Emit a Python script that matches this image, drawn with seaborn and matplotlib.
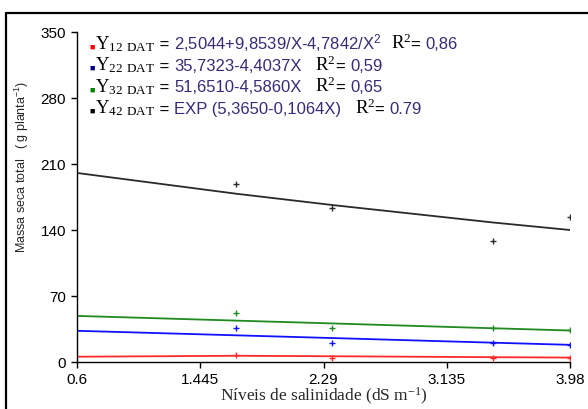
import matplotlib
matplotlib.use("Agg")
import matplotlib.pyplot as plt
import seaborn as sns
import pandas as pd
from matplotlib.offsetbox import TextArea, HPacker, VPacker, AnchoredOffsetbox
from matplotlib.lines import Line2D

# ---- data ----
series = ["12 DAT", "22 DAT", "32 DAT", "42 DAT"]
colors = ["#ff2a2a", "#1010ff", "#1f8a1f", "#2a2a2a"]
legend_colors = ["#ff0000", "#000080", "#008000", "#000000"]

pts_x = [1.69, 2.35, 3.45, 3.98]
pts_12 = [7.5, 4.5, 4.5, 4.5]
pts_22 = [36.0, 20.0, 20.0, 18.5]
pts_32 = [52.5, 36.0, 36.0, 34.0]
pts_42 = [188.5, 163.5, 128.5, 154.0]

fit_x = [0.6, 1.69, 2.35, 3.45, 3.98]
fit_12 = [5.6, 6.6, 6.1, 5.1, 4.7]
fit_22 = [33.1, 28.3, 25.4, 20.5, 18.2]
fit_32 = [48.9, 43.9, 40.9, 35.8, 33.4]
fit_42 = [200.5, 178.5, 166.5, 148.0, 140.0]

eq_texts = ["2,5044+9,8539/X-4,7842/X$^{2}$", "35,7323-4,4037X", "51,6510-4,5860X",
            "EXP (5,3650-0,1064X)"]
r2_texts = ["0,86", "0,59", "0,65", "0.79"]
sub_texts = ["12", "22", "32", "42"]

xticks = [0.6, 1.445, 2.29, 3.135, 3.98]
xtick_labels = ["0.6", "1.445", "2.29", "3.135", "3.98"]
yticks = [0, 70, 140, 210, 280, 350]

# ---- build tables ----
fit_df = pd.concat([pd.DataFrame({"x": fit_x, "y": v, "s": s})
                    for s, v in zip(series, [fit_12, fit_22, fit_32, fit_42])])
pts_df = pd.concat([pd.DataFrame({"x": pts_x, "y": v, "s": s})
                    for s, v in zip(series, [pts_12, pts_22, pts_32, pts_42])])

sns.set_style("white")
plt.rcParams["font.family"] = ["Liberation Sans", "DejaVu Sans"]
plt.rcParams["mathtext.fontset"] = "custom"
plt.rcParams["mathtext.rm"] = "Liberation Serif"
plt.rcParams["mathtext.default"] = "regular"

fig = plt.figure(figsize=(5.88, 4.10), dpi=100)
ax = fig.add_axes([77 / 588, 1 - 363 / 410, (570 - 77) / 588, (363 - 33) / 410])

pal = dict(zip(series, colors))
sns.lineplot(data=fit_df, x="x", y="y", hue="s", palette=pal, ax=ax,
             linewidth=1.3, legend=False, sort=True)
for s in series:
    sub = pts_df[pts_df["s"] == s]
    ax.scatter(sub["x"], sub["y"], marker="+", s=22, color=pal[s], linewidths=1.0, zorder=3)

ax.set_xlim(0.6, 3.98)
ax.set_ylim(0, 350)
ax.set_xticks(xticks)
ax.set_xticklabels(xtick_labels)
ax.set_yticks(yticks)
for sp in ["top", "right"]:
    ax.spines[sp].set_visible(False)
for sp in ["left", "bottom"]:
    ax.spines[sp].set_color("black")
    ax.spines[sp].set_linewidth(1.0)
ax.tick_params(axis="both", direction="out", length=4, width=1.0, colors="black",
               labelsize=11, left=True, bottom=True)
ax.tick_params(axis="y", pad=4)
ax.tick_params(axis="x", pad=3)
ax.set_xlabel("")
ax.set_ylabel("")

fig.text(323.5 / 588, 1 - 396 / 410, "Níveis de salinidade (dS m$^{-1}$)",
         family=["Liberation Serif"], fontsize=12.5, ha="center", va="center")
fig.text(22 / 588, 1 - 167 / 410, "Massa seca total   ( g planta$^{-1}$)",
         fontsize=9, rotation=90, ha="center", va="center")

# ---- equation legend ----
eq_color = "#3a2a78"
rows = []
for i in range(4):
    parts = [
        TextArea("\u25A0", textprops=dict(color=legend_colors[i], fontsize=6.5)),
        TextArea(" ", textprops=dict(fontsize=2)),
        TextArea(r"$\mathrm{Y_{%s\ DAT}}$" % sub_texts[i],
                 textprops=dict(color="black", fontsize=13.5)),
        TextArea(" = ", textprops=dict(color="black", fontsize=12)),
        TextArea(eq_texts[i], textprops=dict(color=eq_color, fontsize=12)),
        TextArea("   " if i else "  ", textprops=dict(fontsize=12)),
        TextArea(r"$\mathrm{R^{2}}$", textprops=dict(color="black", fontsize=13.5)),
        TextArea("= ", textprops=dict(color="black", fontsize=12)),
        TextArea(r2_texts[i], textprops=dict(color=eq_color, fontsize=12)),
    ]
    rows.append(HPacker(children=parts, align="baseline", pad=0, sep=0))
vbox = VPacker(children=rows, align="left", pad=0, sep=1)
anch = AnchoredOffsetbox(loc="upper left", child=vbox, pad=0, borderpad=0,
                         frameon=False, bbox_to_anchor=(89 / 588, 1 - 32 / 410),
                         bbox_transform=fig.transFigure)
fig.add_artist(anch)

# ---- figure frame ----
fig.add_artist(Line2D([6 / 588, 6 / 588], [0, 1 - 14 / 410], transform=fig.transFigure,
                      color="black", linewidth=1.6))
fig.add_artist(Line2D([6 / 588, 1], [1 - 14 / 410, 1 - 14 / 410], transform=fig.transFigure,
                      color="black", linewidth=1.6))

fig.savefig("out.png", dpi=100)
